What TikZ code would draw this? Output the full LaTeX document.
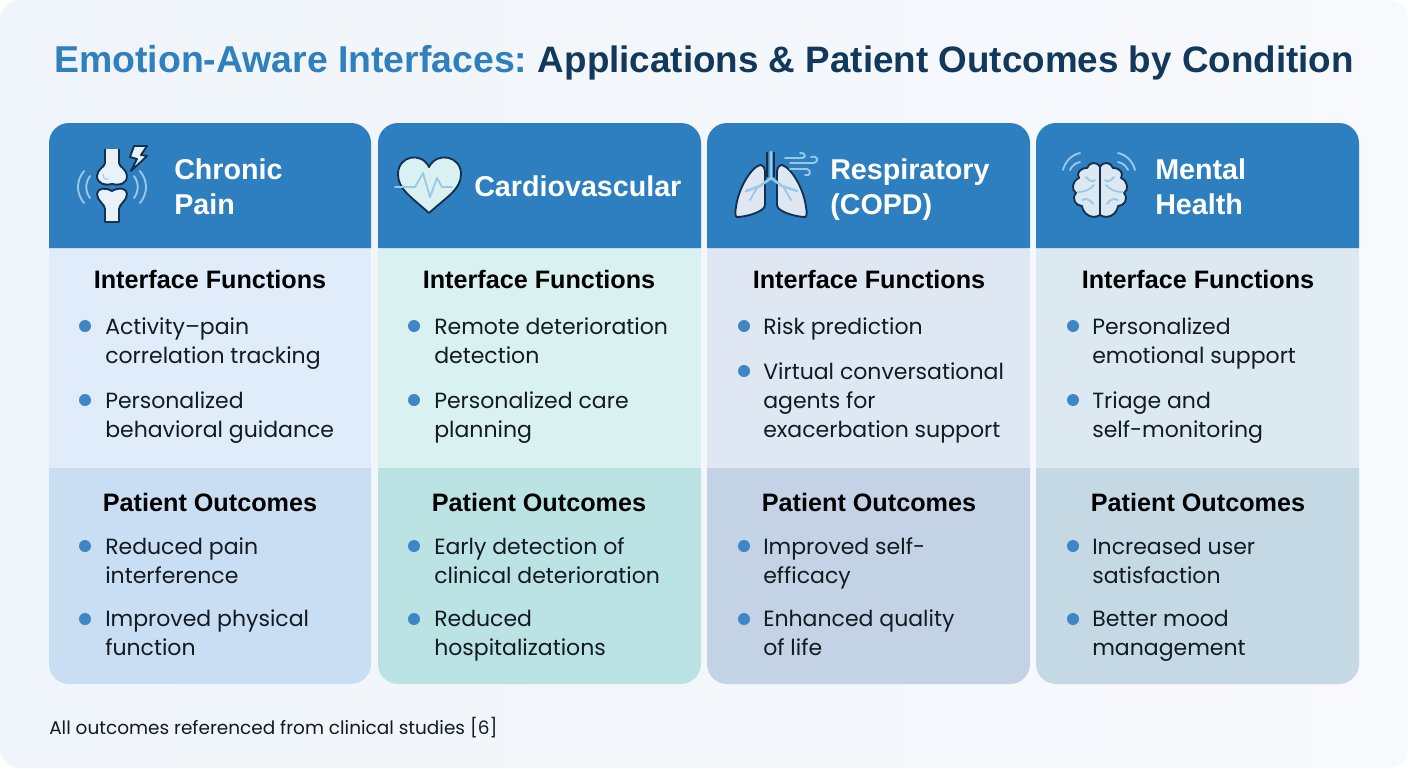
\documentclass[tikz,border=0pt]{standalone}
\usepackage{fontspec}
\setmainfont{Poppins}
\newfontfamily\headfont{Liberation Sans}
\definecolor{bgleft}{HTML}{F0F5FB}
\definecolor{bgright}{HTML}{F7F9FC}
\definecolor{titleblue}{HTML}{2F80BD}
\definecolor{titledark}{HTML}{12395C}
\definecolor{headerblue}{HTML}{2E7FBF}
\definecolor{inkdark}{HTML}{12304F}
\definecolor{inktext}{HTML}{121A22}
\definecolor{waveblue}{HTML}{9CC8E8}
\definecolor{dotblue}{HTML}{3F86C6}
\definecolor{painup}{HTML}{E0ECFA}
\definecolor{paindown}{HTML}{C9DDF3}
\definecolor{cardup}{HTML}{D9F1F0}
\definecolor{carddown}{HTML}{BBE3E4}
\definecolor{respup}{HTML}{DFE7F3}
\definecolor{respdown}{HTML}{C4D2E6}
\definecolor{mentup}{HTML}{DDE9F0}
\definecolor{mentdown}{HTML}{C5D9E5}
\tikzset{
  titletext/.style={inner sep=0pt,font=\headfont\bfseries\fontsize{27.6}{33}\selectfont},
  headtext/.style={anchor=base west,inner sep=0pt,text=white,font=\headfont\bfseries\fontsize{21.5}{26}\selectfont},
  sectext/.style={anchor=base,inner sep=0pt,text=black,font=\headfont\bfseries\fontsize{18.9}{22}\selectfont},
  itemtext/.style={anchor=base west,inner sep=0pt,align=left,text=inktext,font=\fontsize{16.5}{21.75}\selectfont},
  itemdot/.style={circle,fill=dotblue,inner sep=0pt,minimum size=9pt},
  iconline/.style={draw=inkdark,line width=1.4pt,line join=round},
  waveline/.style={draw=waveblue,line width=1.4pt,line cap=round},
}
\begin{document}
\begin{tikzpicture}[x=0.75pt,y=0.75pt,yscale=-1,xscale=1]
\useasboundingbox (0,0) rectangle (1408,768);

%Background
\shade[left color=bgleft,right color=bgright,rounded corners=15pt] (0,0) rectangle (1408,768);

%Title
\draw (54,72) node [titletext,anchor=base west,text=titleblue,font=\headfont\bfseries\fontsize{28.05}{33}\selectfont] (titlea) {Emotion-Aware Interfaces:};
\draw (1354,72) node [titletext,anchor=base east,text=titledark] (titleb) {Applications \& Patient Outcomes by Condition};

%Column: chronic pain
\fill[painup] (49,248) rectangle (371,468);
\fill[paindown] (49,468) -- (371,468) -- (371,664) arc[start angle=0,end angle=90,radius=20] -- (69,684) arc[start angle=90,end angle=180,radius=20] -- cycle;
\fill[headerblue] (49,248) -- (49,143) arc[start angle=180,end angle=270,radius=20] -- (351,123) arc[start angle=270,end angle=360,radius=20] -- (371,248) -- cycle;
%Column: cardiovascular
\fill[cardup] (378,248) rectangle (701,468);
\fill[carddown] (378,468) -- (701,468) -- (701,664) arc[start angle=0,end angle=90,radius=20] -- (398,684) arc[start angle=90,end angle=180,radius=20] -- cycle;
\fill[headerblue] (378,248) -- (378,143) arc[start angle=180,end angle=270,radius=20] -- (681,123) arc[start angle=270,end angle=360,radius=20] -- (701,248) -- cycle;
%Column: respiratory
\fill[respup] (707,248) rectangle (1030,468);
\fill[respdown] (707,468) -- (1030,468) -- (1030,664) arc[start angle=0,end angle=90,radius=20] -- (727,684) arc[start angle=90,end angle=180,radius=20] -- cycle;
\fill[headerblue] (707,248) -- (707,143) arc[start angle=180,end angle=270,radius=20] -- (1010,123) arc[start angle=270,end angle=360,radius=20] -- (1030,248) -- cycle;
%Column: mental health
\fill[mentup] (1036,248) rectangle (1359,468);
\fill[mentdown] (1036,468) -- (1359,468) -- (1359,664) arc[start angle=0,end angle=90,radius=20] -- (1056,684) arc[start angle=90,end angle=180,radius=20] -- cycle;
\fill[headerblue] (1036,248) -- (1036,143) arc[start angle=180,end angle=270,radius=20] -- (1339,123) arc[start angle=270,end angle=360,radius=20] -- (1359,248) -- cycle;

%Icon: joint
\draw[waveline] (84,171) .. controls (76,181) and (76,193) .. (84,203);
\draw[waveline] (90,176) .. controls (85,183) and (85,191) .. (90,198);
\draw[waveline] (140,171) .. controls (148,181) and (148,193) .. (140,203);
\draw[waveline] (134,176) .. controls (139,183) and (139,191) .. (134,198);
\draw[iconline,fill=white!90!headerblue] (105,149) -- (105,163) .. controls (105,167) and (97,169) .. (97,176) .. controls (97,184) and (106,186) .. (112,184) .. controls (119,186) and (127,184) .. (127,176) .. controls (127,169) and (119,167) .. (119,163) -- (119,149);
\draw[iconline,fill=white!90!headerblue] (105,222) -- (105,209) .. controls (105,204) and (97,201) .. (97,194) .. controls (97,188) and (106,187) .. (112,191) .. controls (119,187) and (127,188) .. (127,194) .. controls (127,201) and (119,204) .. (119,209) -- (119,222) -- cycle;
\draw[waveline,line width=.8pt] (103,174) .. controls (103,178) and (105,180) .. (108,179);
\draw[iconline,fill=white!90!headerblue] (134,146) -- (147,146) -- (141,155) -- (147,156) -- (131,171) -- (137,159) -- (130,157) -- cycle;

%Icon: heart
\draw[iconline,fill=cardup] (429,213) .. controls (410,196) and (398,189) .. (398,174) .. controls (398,156) and (421,151) .. (429,167) .. controls (437,151) and (461,156) .. (461,174) .. controls (461,189) and (448,196) .. (429,213) -- cycle;
\draw[waveline,line join=round] (395,187) -- (415,187) -- (423,173) -- (430,197) -- (437,178) -- (442,187) -- (452,187);

%Icon: lungs
\draw[iconline,fill=respup] (760,165) .. controls (750,168) and (738,190) .. (736,207) .. controls (735,212) and (735,217) .. (737,217) .. controls (745,217) and (765,212) .. (765,205) -- (765,172) .. controls (765,168) and (763,165) .. (760,165) -- cycle;
\draw[iconline,fill=respup] (782,165) .. controls (792,168) and (804,190) .. (806,207) .. controls (807,212) and (807,217) .. (805,217) .. controls (797,217) and (777,212) .. (777,205) -- (777,172) .. controls (777,168) and (779,165) .. (782,165) -- cycle;
\draw[iconline,line width=.9pt] (767,152) -- (767,177);
\draw[iconline,line width=.9pt] (774,152) -- (774,177);
\draw[waveline,line width=2pt] (771,152) -- (771,178) -- (760,186) -- (746,191);
\draw[waveline,line width=2pt] (771,178) -- (782,186) -- (797,191);
\draw[waveline] (757,188) -- (750,200);
\draw[waveline] (784,188) -- (791,200);
\draw[waveline] (785,158) -- (802,158) .. controls (807,158) and (805,152) .. (800,153);
\draw[waveline] (790,163) -- (813,163) .. controls (820,162) and (818,155) .. (811,157);
\draw[waveline] (790,169) -- (807,169) .. controls (812,170) and (810,177) .. (805,175);

%Icon: brain
\draw[waveline] (1063,170) .. controls (1065,162) and (1071,155) .. (1080,153);
\draw[waveline] (1070,170) .. controls (1072,166) and (1075,163) .. (1080,162);
\draw[waveline] (1135,170) .. controls (1133,162) and (1127,155) .. (1118,153);
\draw[waveline] (1128,170) .. controls (1126,166) and (1123,163) .. (1118,162);
\draw[iconline,fill=mentup] (1100,167) .. controls (1097,161) and (1089,162) .. (1087,168) .. controls (1080,168) and (1076,173) .. (1079,178) .. controls (1072,181) and (1071,190) .. (1076,193) .. controls (1071,199) and (1076,206) .. (1082,206) .. controls (1083,214) and (1092,220) .. (1100,215) .. controls (1108,220) and (1117,214) .. (1118,206) .. controls (1124,206) and (1129,199) .. (1124,193) .. controls (1129,190) and (1128,181) .. (1121,178) .. controls (1124,173) and (1120,168) .. (1113,168) .. controls (1111,162) and (1103,161) .. (1100,167) -- (1100,215);
\draw[waveline] (1086,177) .. controls (1090,182) and (1094,182) .. (1095,180);
\draw[waveline] (1078,192) .. controls (1084,192) and (1090,190) .. (1094,185);
\draw[waveline] (1082,200) .. controls (1086,198) and (1090,199) .. (1093,204);
\draw[waveline] (1114,177) .. controls (1110,182) and (1106,182) .. (1105,180);
\draw[waveline] (1122,192) .. controls (1116,192) and (1110,190) .. (1106,185);
\draw[waveline] (1118,200) .. controls (1114,198) and (1110,199) .. (1107,204);

% Text Node
\draw (174,179) node [headtext] (painhead) {Chronic};
\draw (174,214) node [headtext] (painheadb) {Pain};
\draw (474,196) node [headtext] (cardhead) {Cardiovascular};
\draw (830,179) node [headtext] (resphead) {Respiratory};
\draw (830,214) node [headtext] (respheadb) {(COPD)};
\draw (1155,179) node [headtext] (menthead) {Mental};
\draw (1155,214) node [headtext] (mentheadb) {Health};

% Text Node
\draw (210,288) node [sectext] (painfun) {Interface Functions};
\draw (539,288) node [sectext] (cardfun) {Interface Functions};
\draw (869,288) node [sectext] (respfun) {Interface Functions};
\draw (1198,288) node [sectext] (mentfun) {Interface Functions};
\draw (210,511) node [sectext] (painout) {Patient Outcomes};
\draw (539,511) node [sectext] (cardout) {Patient Outcomes};
\draw (869,511) node [sectext] (respout) {Patient Outcomes};
\draw (1198,511) node [sectext] (mentout) {Patient Outcomes};

% Bullets
\node [itemdot] (dota) at (85,326) {};
\node [itemdot] (dotb) at (85,400) {};
\node [itemdot] (dotc) at (85,546) {};
\node [itemdot] (dotd) at (85,619) {};
\node [itemdot] (dote) at (414,326) {};
\node [itemdot] (dotf) at (414,400) {};
\node [itemdot] (dotg) at (414,546) {};
\node [itemdot] (doth) at (414,619) {};
\node [itemdot] (doti) at (744,326) {};
\node [itemdot] (dotj) at (744,371) {};
\node [itemdot] (dotk) at (744,546) {};
\node [itemdot] (dotl) at (744,619) {};
\node [itemdot] (dotm) at (1073,326) {};
\node [itemdot] (dotn) at (1073,400) {};
\node [itemdot] (doto) at (1073,546) {};
\node [itemdot] (dotp) at (1073,619) {};

% Text Node
\draw (105,363) node [itemtext] (itema) {Activity–pain\\correlation tracking};
\draw (105,437) node [itemtext] (itemb) {Personalized\\behavioral guidance};
\draw (105,583) node [itemtext] (itemc) {Reduced pain\\interference};
\draw (105,655) node [itemtext] (itemd) {Improved physical\\function};
\draw (434,363) node [itemtext] (iteme) {Remote deterioration\\detection};
\draw (434,437) node [itemtext] (itemf) {Personalized care\\planning};
\draw (434,583) node [itemtext] (itemg) {Early detection of\\clinical deterioration};
\draw (434,655) node [itemtext] (itemh) {Reduced\\hospitalizations};
\draw (763,334) node [itemtext] (itemi) {Risk prediction};
\draw (763,437) node [itemtext] (itemj) {Virtual conversational\\agents for\\exacerbation support};
\draw (763,583) node [itemtext] (itemk) {Improved self-\\efficacy};
\draw (763,655) node [itemtext] (iteml) {Enhanced quality\\of life};
\draw (1092,363) node [itemtext] (itemm) {Personalized\\emotional support};
\draw (1092,437) node [itemtext] (itemn) {Triage and\\self-monitoring};
\draw (1092,583) node [itemtext] (itemo) {Increased user\\satisfaction};
\draw (1092,655) node [itemtext] (itemp) {Better mood\\management};

% Text Node
\draw (49,734) node [anchor=base west,inner sep=0pt,text=inktext,font=\fontsize{13.85}{17}\selectfont] (footnote) {All outcomes referenced from clinical studies [6]};
\end{tikzpicture}
\end{document}
